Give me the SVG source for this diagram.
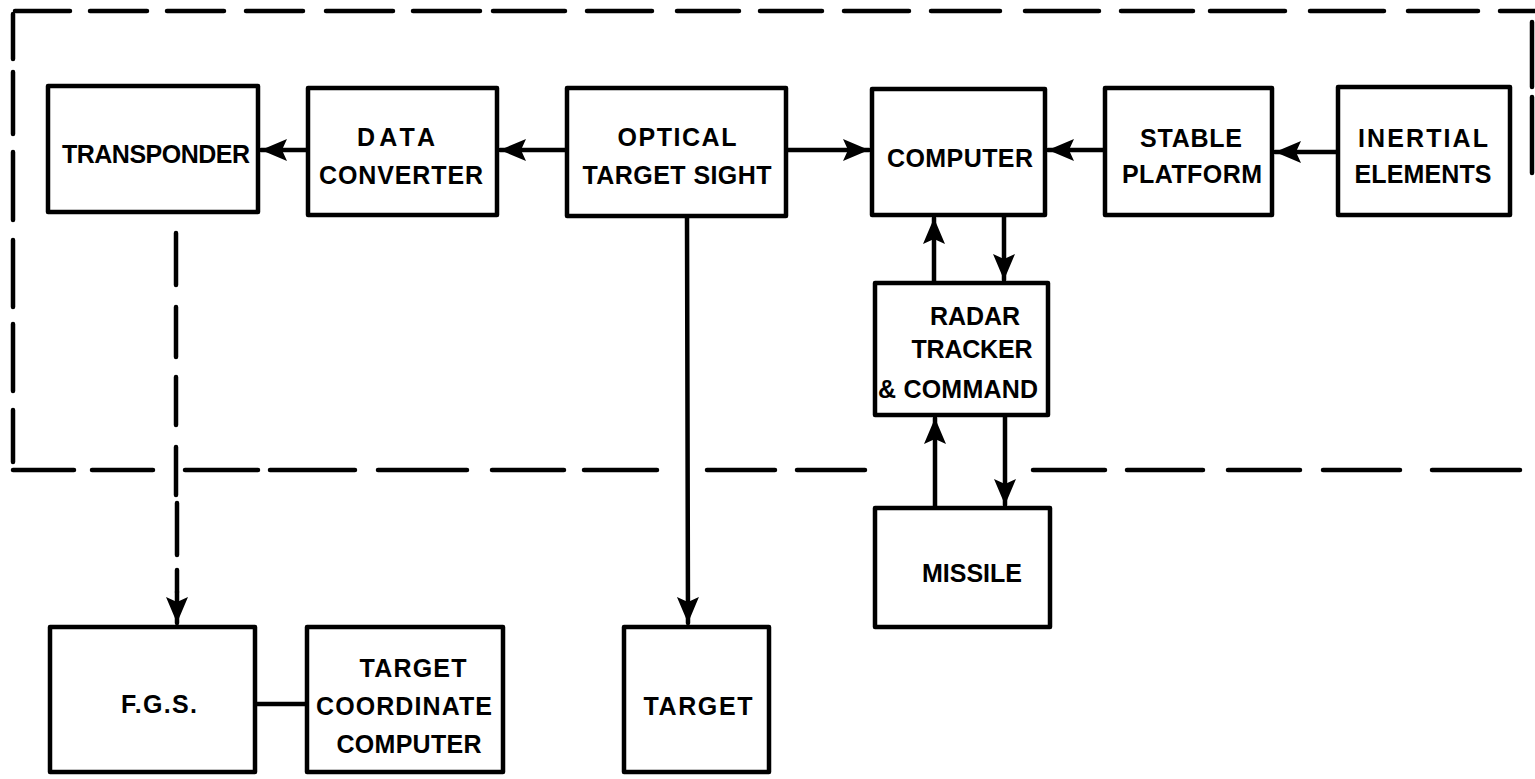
<svg xmlns="http://www.w3.org/2000/svg" width="1535" height="779" viewBox="0 0 1535 779">
<style>
.box{fill:#fff;stroke:#000;stroke-width:4.5;stroke-linejoin:round}
.ln{fill:none;stroke:#000;stroke-width:4.5;stroke-linecap:round}
.bd{fill:none;stroke:#000;stroke-width:4.5;stroke-linecap:round}
text{font-family:"Liberation Sans",Arial,sans-serif;font-weight:bold;font-size:25px;fill:#000;text-anchor:middle}
</style>
<defs>
<marker id="ah" markerUnits="userSpaceOnUse" markerWidth="30" markerHeight="26" refX="26" refY="11" orient="auto">
<path d="M0,0 L26,11 L0,22 L5,11 z" fill="#000"/>
</marker>
</defs>
<rect width="1535" height="779" fill="#fff"/>
<g id="boundary">
<path class="bd" d="M15,11H70M90,11H147M167,11H224M246,11H303M326,11H393M413,11H480M493,11H565M587,11H652M677,11H739M760,11H822M844,11H909M931,11H1000M1025,11H1099M1121,11H1193M1210,11H1285M1310,11H1384M1408,11H1478M1500,11H1535"/>
<path class="bd" d="M13,14V59M13,72V134M13,152V220M13,240V307M13,324V391M13,410V462"/>
<path class="bd" d="M1532,22V87M1532,97V173"/>
<path class="bd" d="M13,470H74M92,470H153M185,470H258M270,470H355M378,470H467M492,470H564M584,470H657M707,470H775M797,470H865M1033,470H1105M1127,470H1203M1228,470H1300M1323,470H1400M1432,470H1520"/>
</g>
<g id="connectors">
<line class="ln" x1="308" y1="150" x2="261" y2="150" marker-end="url(#ah)"/>
<line class="ln" x1="567" y1="150" x2="500" y2="150" marker-end="url(#ah)"/>
<line class="ln" x1="786" y1="150" x2="869" y2="150" marker-end="url(#ah)"/>
<line class="ln" x1="1105" y1="150" x2="1048" y2="150" marker-end="url(#ah)"/>
<line class="ln" x1="1338" y1="152" x2="1275" y2="152" marker-end="url(#ah)"/>
<line class="ln" x1="687" y1="216" x2="688" y2="623" marker-end="url(#ah)"/>
<line class="ln" x1="934" y1="283" x2="934" y2="218" marker-end="url(#ah)"/>
<line class="ln" x1="1004" y1="215" x2="1004" y2="280" marker-end="url(#ah)"/>
<line class="ln" x1="935" y1="508" x2="935" y2="418" marker-end="url(#ah)"/>
<line class="ln" x1="1005" y1="415" x2="1005" y2="505" marker-end="url(#ah)"/>
<path class="ln" d="M176,233V285M176,307V357M176,377V425M176,447V495M177,503V555M177,570V592"/>
<line class="ln" x1="177" y1="592" x2="177" y2="623" marker-end="url(#ah)" stroke-linecap="butt"/>
<line class="ln" x1="255" y1="704" x2="307" y2="704"/>
</g>
<g id="transponder"><rect class="box" x="48" y="86" width="210" height="126"/><text x="156" y="163" textLength="188" lengthAdjust="spacing">TRANSPONDER</text></g>
<g id="data-converter"><rect class="box" x="308" y="88" width="189" height="127"/><text x="396" y="146" textLength="78" lengthAdjust="spacing">DATA</text><text x="401" y="184" textLength="164" lengthAdjust="spacing">CONVERTER</text></g>
<g id="optical-target-sight"><rect class="box" x="567" y="88" width="219" height="128"/><text x="677" y="146" textLength="119" lengthAdjust="spacing">OPTICAL</text><text x="677" y="184" textLength="189" lengthAdjust="spacing">TARGET SIGHT</text></g>
<g id="computer"><rect class="box" x="872" y="89" width="173" height="126"/><text x="960" y="167" textLength="146" lengthAdjust="spacing">COMPUTER</text></g>
<g id="stable-platform"><rect class="box" x="1105" y="88" width="167" height="127"/><text x="1191" y="147" textLength="102" lengthAdjust="spacing">STABLE</text><text x="1192" y="183" textLength="140" lengthAdjust="spacing">PLATFORM</text></g>
<g id="inertial-elements"><rect class="box" x="1338" y="87" width="172" height="128"/><text x="1423" y="147" textLength="130" lengthAdjust="spacing">INERTIAL</text><text x="1423" y="183" textLength="137" lengthAdjust="spacing">ELEMENTS</text></g>
<g id="radar-tracker"><rect class="box" x="875" y="283" width="173" height="132"/><text x="975" y="325" textLength="90" lengthAdjust="spacing">RADAR</text><text x="972" y="358" textLength="121" lengthAdjust="spacing">TRACKER</text><text x="958" y="398" textLength="160" lengthAdjust="spacing">&amp; COMMAND</text></g>
<g id="missile"><rect class="box" x="875" y="508" width="175" height="119"/><text x="972" y="582" textLength="100" lengthAdjust="spacing">MISSILE</text></g>
<g id="fgs"><rect class="box" x="50" y="627" width="205" height="145"/><text x="159" y="713" textLength="76" lengthAdjust="spacing">F.G.S.</text></g>
<g id="target-coordinate-computer"><rect class="box" x="307" y="627" width="196" height="145"/><text x="413" y="677" textLength="107" lengthAdjust="spacing">TARGET</text><text x="404" y="715" textLength="176" lengthAdjust="spacing">COORDINATE</text><text x="409" y="753" textLength="145" lengthAdjust="spacing">COMPUTER</text></g>
<g id="target"><rect class="box" x="624" y="627" width="145" height="145"/><text x="698" y="715" textLength="109" lengthAdjust="spacing">TARGET</text></g>
</svg>
